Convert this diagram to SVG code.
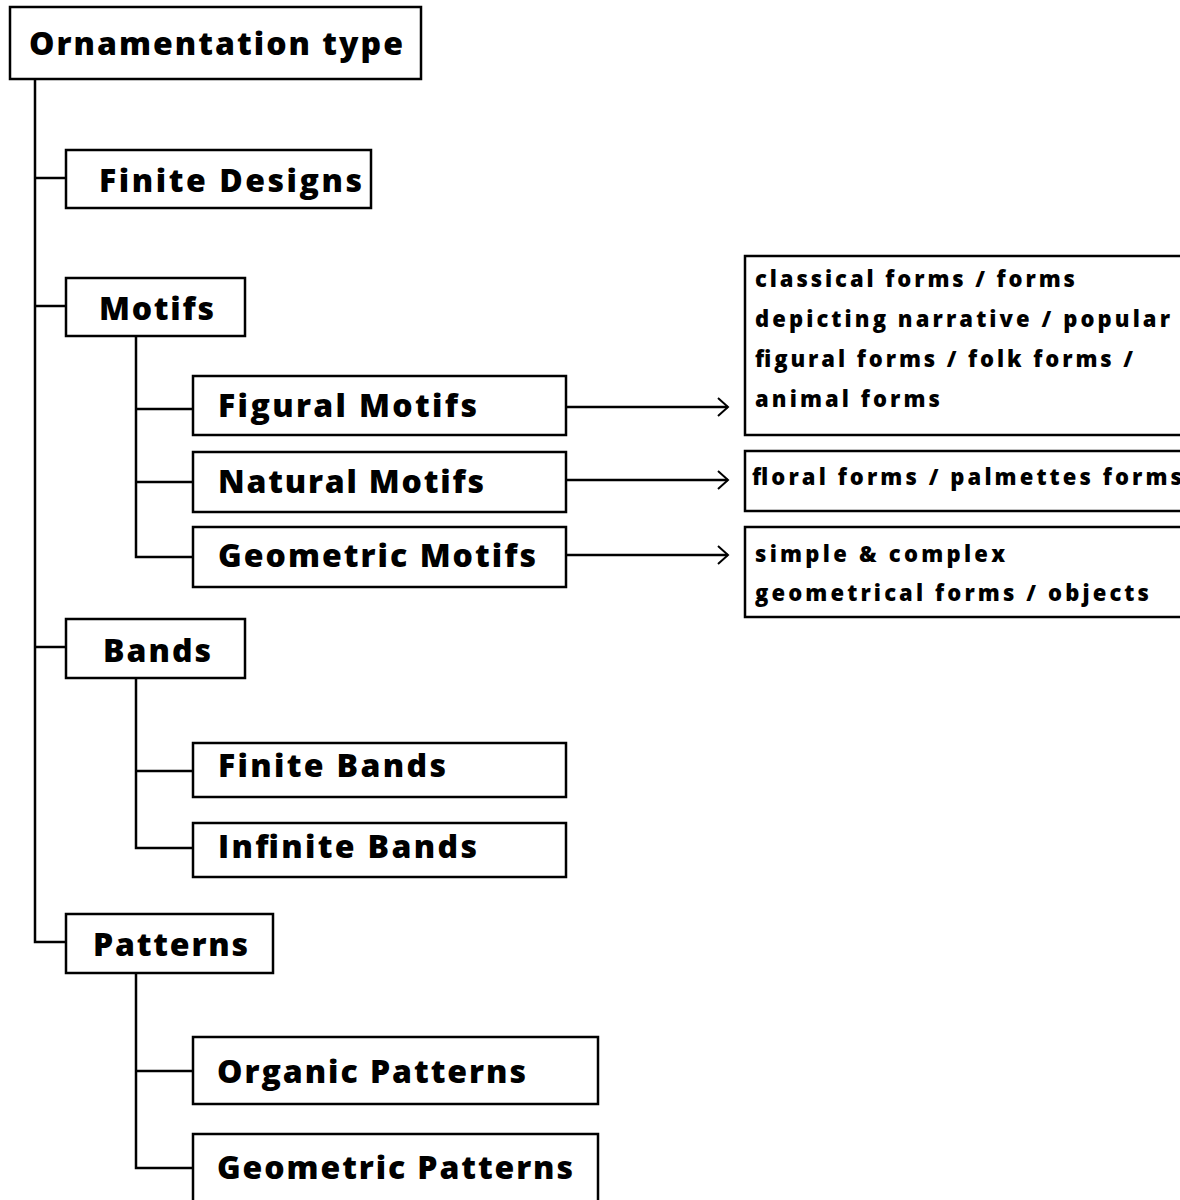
<svg xmlns="http://www.w3.org/2000/svg" width="1180" height="1200" viewBox="0 0 1180 1200">
<style>
.box{fill:#fff;stroke:#000;stroke-width:2.5}
.lbl{font-family:"Open Sans","Noto Sans","Liberation Sans",sans-serif;font-weight:800;font-size:32px;fill:#000}
.sm{font-family:"Open Sans","Noto Sans","Liberation Sans",sans-serif;font-weight:800;font-size:22px;fill:#000}
.ln{fill:none;stroke:#000;stroke-width:2.5}
</style>
<defs>
<marker id="arr" markerWidth="14" markerHeight="22" refX="12" refY="11" orient="auto" markerUnits="userSpaceOnUse">
<path d="M2,2 L12,11 L2,20" fill="none" stroke="#000" stroke-width="2"/>
</marker>
</defs>
<rect x="0" y="0" width="1180" height="1200" fill="#fff"/>
<g id="connectors">
<path class="ln" d="M35,79 V942 H66"/>
<path class="ln" d="M35,178 H66"/>
<path class="ln" d="M35,306 H66"/>
<path class="ln" d="M35,647 H66"/>
<path class="ln" d="M136,336 V557 H193"/>
<path class="ln" d="M136,409 H193"/>
<path class="ln" d="M136,482 H193"/>
<path class="ln" d="M136,678 V848 H193"/>
<path class="ln" d="M136,771 H193"/>
<path class="ln" d="M136,973 V1168 H193"/>
<path class="ln" d="M136,1071 H193"/>
<path class="ln" d="M566,407 H728" marker-end="url(#arr)"/>
<path class="ln" d="M566,480 H728" marker-end="url(#arr)"/>
<path class="ln" d="M566,555 H728" marker-end="url(#arr)"/>
</g>
<g id="root">
<rect class="box" x="10" y="7" width="411" height="72"/>
<text class="lbl" x="29" y="55" textLength="374" lengthAdjust="spacing">Ornamentation type</text>
</g>
<g id="finite-designs">
<rect class="box" x="66" y="150" width="305" height="58"/>
<text class="lbl" x="99" y="192" textLength="263" lengthAdjust="spacing">Finite Designs</text>
</g>
<g id="motifs">
<rect class="box" x="66" y="278" width="179" height="58"/>
<text class="lbl" x="99" y="320" textLength="115" lengthAdjust="spacing">Motifs</text>
</g>
<g id="figural-motifs">
<rect class="box" x="193" y="376" width="373" height="59"/>
<text class="lbl" x="218" y="417" textLength="259" lengthAdjust="spacing">Figural Motifs</text>
</g>
<g id="natural-motifs">
<rect class="box" x="193" y="452" width="373" height="60"/>
<text class="lbl" x="218" y="493" textLength="266" lengthAdjust="spacing">Natural Motifs</text>
</g>
<g id="geometric-motifs">
<rect class="box" x="193" y="527" width="373" height="60"/>
<text class="lbl" x="218" y="567" textLength="318" lengthAdjust="spacing">Geometric Motifs</text>
</g>
<g id="figural-forms">
<rect class="box" x="745" y="256" width="445" height="179"/>
<text class="sm" x="755" y="287" textLength="320" lengthAdjust="spacing">classical forms / forms</text>
<text class="sm" x="755" y="327" textLength="415" lengthAdjust="spacing">depicting narrative / popular</text>
<text class="sm" x="755" y="367" textLength="378" lengthAdjust="spacing">figural forms / folk forms /</text>
<text class="sm" x="755" y="407" textLength="185" lengthAdjust="spacing">animal forms</text>
</g>
<g id="natural-forms">
<rect class="box" x="745" y="451" width="445" height="60"/>
<text class="sm" x="752" y="485" textLength="430" lengthAdjust="spacing">floral forms / palmettes forms</text>
</g>
<g id="geometric-forms">
<rect class="box" x="745" y="527" width="445" height="90"/>
<text class="sm" x="755" y="562" textLength="250" lengthAdjust="spacing">simple &amp; complex</text>
<text class="sm" x="755" y="601" textLength="394" lengthAdjust="spacing">geometrical forms / objects</text>
</g>
<g id="bands">
<rect class="box" x="66" y="619" width="179" height="59"/>
<text class="lbl" x="103" y="662" textLength="108" lengthAdjust="spacing">Bands</text>
</g>
<g id="finite-bands">
<rect class="box" x="193" y="743" width="373" height="54"/>
<text class="lbl" x="218" y="777" textLength="228" lengthAdjust="spacing">Finite Bands</text>
</g>
<g id="infinite-bands">
<rect class="box" x="193" y="823" width="373" height="54"/>
<text class="lbl" x="218" y="858" textLength="259" lengthAdjust="spacing">Infinite Bands</text>
</g>
<g id="patterns">
<rect class="box" x="66" y="914" width="207" height="59"/>
<text class="lbl" x="93" y="956" textLength="155" lengthAdjust="spacing">Patterns</text>
</g>
<g id="organic-patterns">
<rect class="box" x="193" y="1037" width="405" height="67"/>
<text class="lbl" x="217" y="1083" textLength="309" lengthAdjust="spacing">Organic Patterns</text>
</g>
<g id="geometric-patterns">
<rect class="box" x="193" y="1134" width="405" height="80"/>
<text class="lbl" x="217" y="1179" textLength="356" lengthAdjust="spacing">Geometric Patterns</text>
</g>
</svg>
